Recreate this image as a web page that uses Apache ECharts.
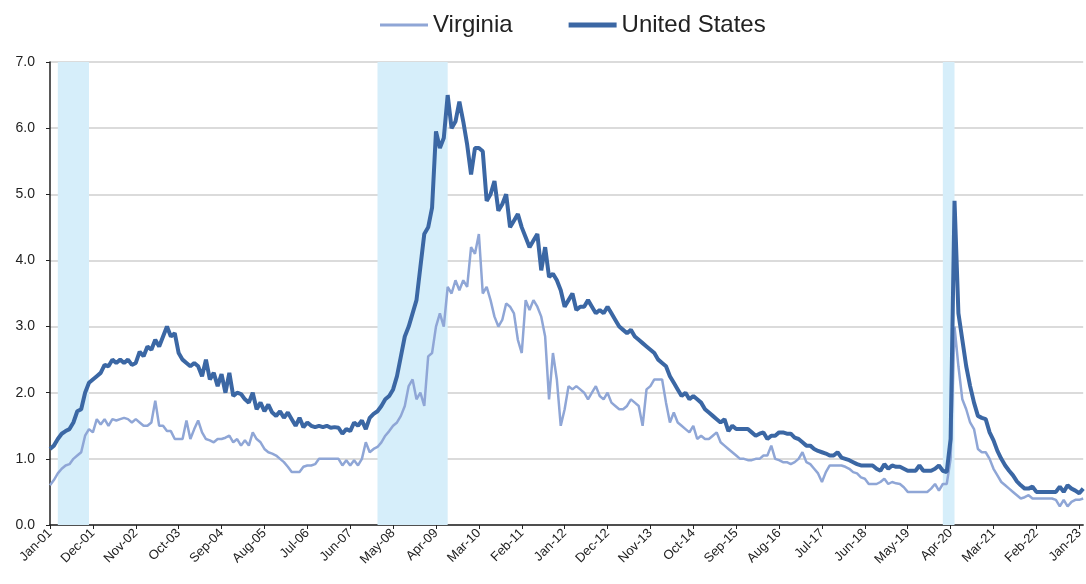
<!DOCTYPE html>
<html>
<head>
<meta charset="utf-8">
<script src="https://cdn.jsdelivr.net/npm/echarts@6/dist/echarts.min.js"></script>
<style>
  html, body { margin: 0; padding: 0; background: #fff; }
  #main { width: 1086px; height: 584px; }
</style>
</head>
<body>
<div id="main"></div>
<script>
var myChart = echarts.init(document.getElementById('main'));

// month labels Jan-01 .. Feb-23
var monthNames = ['Jan', 'Feb', 'Mar', 'Apr', 'May', 'Jun', 'Jul', 'Aug', 'Sep', 'Oct', 'Nov', 'Dec'];
var categories = [];
for (var y = 2001; y <= 2023; y++) {
    for (var m = 0; m < 12; m++) {
        if (categories.length < 266) categories.push(monthNames[m] + '-' + String(y).slice(2));
    }
}

// one row per year
var usData = [
    1.15, 1.2, 1.3, 1.38, 1.42, 1.45, 1.55, 1.72, 1.75, 2.0, 2.15, 2.2,
    2.25, 2.3, 2.42, 2.4, 2.5, 2.45, 2.5, 2.45, 2.5, 2.42, 2.45, 2.62,
    2.55, 2.7, 2.65, 2.8, 2.7, 2.85, 3.0, 2.85, 2.9, 2.6, 2.5, 2.45,
    2.4, 2.45, 2.4, 2.25, 2.5, 2.2, 2.3, 2.1, 2.28, 2.0, 2.3, 1.95,
    2.0, 1.98, 1.9, 1.85, 2.0, 1.75, 1.85, 1.72, 1.82, 1.7, 1.65, 1.72,
    1.62, 1.7, 1.6, 1.5, 1.62, 1.48, 1.55, 1.5, 1.48, 1.5, 1.48, 1.5,
    1.47, 1.48, 1.47, 1.38, 1.45, 1.42, 1.55, 1.5, 1.58, 1.45, 1.62, 1.68,
    1.72, 1.8, 1.9, 1.95, 2.05, 2.25, 2.55, 2.85, 3.0, 3.2, 3.4, 3.9,
    4.4, 4.5, 4.8, 5.95, 5.7, 5.85, 6.5, 6.0, 6.1, 6.4, 6.1, 5.75,
    5.3, 5.7, 5.7, 5.65, 4.9, 5.0, 5.2, 4.75, 4.85, 5.0, 4.5, 4.6,
    4.7, 4.5, 4.35, 4.2, 4.3, 4.4, 3.85, 4.2, 3.75, 3.8, 3.7, 3.55,
    3.3, 3.4, 3.5, 3.25, 3.3, 3.3, 3.4, 3.3, 3.2, 3.25, 3.2, 3.3,
    3.2, 3.1, 3.0, 2.95, 2.9, 2.95, 2.85, 2.8, 2.75, 2.7, 2.65, 2.6,
    2.5, 2.45, 2.4, 2.25, 2.15, 2.05, 1.95, 2.0, 1.9, 1.95, 1.9, 1.85,
    1.75, 1.7, 1.65, 1.6, 1.55, 1.6, 1.42, 1.5, 1.45, 1.45, 1.45, 1.45,
    1.4, 1.35, 1.38, 1.4, 1.3, 1.35, 1.35, 1.4, 1.4, 1.38, 1.38, 1.32,
    1.3, 1.25, 1.2, 1.2, 1.15, 1.12, 1.1, 1.08, 1.05, 1.05, 1.1, 1.02,
    1.0, 0.98, 0.95, 0.92, 0.9, 0.9, 0.9, 0.9, 0.85, 0.82, 0.92, 0.85,
    0.9, 0.88, 0.88, 0.85, 0.82, 0.82, 0.82, 0.9, 0.82, 0.82, 0.82, 0.85,
    0.9, 0.82, 0.8, 1.3, 4.9, 3.2, 2.8, 2.4, 2.1, 1.85, 1.65, 1.62,
    1.6, 1.4, 1.28, 1.12, 1.0, 0.9, 0.82, 0.75, 0.66, 0.6, 0.55, 0.55,
    0.58, 0.5, 0.5, 0.5, 0.5, 0.5, 0.5, 0.58, 0.5, 0.6, 0.55, 0.52,
    0.48, 0.55
];

var vaData = [
    0.6, 0.68, 0.78, 0.85, 0.9, 0.92, 1.0, 1.05, 1.1, 1.35, 1.45, 1.4,
    1.6, 1.52, 1.6, 1.5, 1.6, 1.58, 1.6, 1.62, 1.6, 1.55, 1.6, 1.55,
    1.5, 1.5, 1.55, 1.88, 1.5, 1.5, 1.42, 1.42, 1.3, 1.3, 1.3, 1.58,
    1.3, 1.45, 1.58, 1.4, 1.3, 1.28, 1.25, 1.3, 1.3, 1.32, 1.35, 1.25,
    1.3, 1.2, 1.28, 1.2, 1.4, 1.3, 1.25, 1.15, 1.1, 1.08, 1.05, 1.0,
    0.95, 0.88, 0.8, 0.8, 0.8, 0.88, 0.9, 0.9, 0.92, 1.0, 1.0, 1.0,
    1.0, 1.0, 1.0, 0.9, 0.98, 0.9, 0.98, 0.9, 1.0, 1.25, 1.1, 1.15,
    1.18, 1.25, 1.35, 1.42, 1.5, 1.55, 1.65, 1.8, 2.1, 2.2, 1.9, 2.0,
    1.8, 2.55, 2.6, 3.0, 3.2, 3.0, 3.6, 3.5, 3.7, 3.55, 3.7, 3.6,
    4.2, 4.1, 4.4, 3.5, 3.6, 3.4, 3.15, 3.0, 3.1, 3.35, 3.3, 3.2,
    2.8, 2.6, 3.4, 3.25, 3.4, 3.3, 3.15, 2.85, 1.9, 2.6, 2.2, 1.5,
    1.75, 2.1, 2.05, 2.1, 2.05, 2.0, 1.9, 2.0, 2.1, 1.95, 1.9, 2.0,
    1.85, 1.8, 1.75, 1.75, 1.8, 1.9, 1.85, 1.8, 1.5, 2.05, 2.1, 2.2,
    2.2, 2.2, 1.85, 1.55, 1.7, 1.55, 1.5, 1.45, 1.4, 1.5, 1.3, 1.35,
    1.3, 1.3, 1.35, 1.4, 1.25, 1.2, 1.15, 1.1, 1.05, 1.0, 1.0, 0.98,
    0.98, 1.0, 1.0, 1.05, 1.05, 1.2, 1.0, 0.98, 0.95, 0.95, 0.92, 0.95,
    1.0, 1.1, 0.95, 0.92, 0.85, 0.78, 0.65, 0.8, 0.9, 0.9, 0.9, 0.9,
    0.88, 0.85, 0.8, 0.78, 0.72, 0.7, 0.62, 0.62, 0.62, 0.65, 0.7, 0.62,
    0.65, 0.63, 0.62, 0.57, 0.5, 0.5, 0.5, 0.5, 0.5, 0.5, 0.55, 0.62,
    0.52, 0.62, 0.62, 1.0, 3.0, 2.4, 1.9, 1.75, 1.55, 1.45, 1.15, 1.1,
    1.1, 1.0, 0.85, 0.75, 0.65, 0.6, 0.55, 0.5, 0.45, 0.4, 0.42, 0.45,
    0.4, 0.4, 0.4, 0.4, 0.4, 0.4, 0.38, 0.28, 0.38, 0.28, 0.35, 0.38,
    0.38, 0.4
];

// recession periods (shaded)
var recessions = [['Mar-01', 'Nov-01'], ['Jan-08', 'Jul-09'], ['Feb-20', 'May-20']];

var font = '"Liberation Sans Narrow", "Arial Narrow", "Liberation Sans", sans-serif';
var vaColor = '#8fa6d6';
var usColor = '#3b67a4';

var option = {
    animation: false,
    backgroundColor: '#fff',
    legend: {
        top: 8,
        left: 375,
        itemWidth: 48,
        itemHeight: 12,
        itemGap: 56,
        textStyle: {
            fontFamily: font,
            fontSize: 24,
            color: '#222'
        },
        data: [
            {name: 'Virginia', icon: 'path://M0 0H48V3H0Z'},
            {name: 'United States', icon: 'path://M0 0H48V5H0Z'}
        ]
    },
    grid: {
        left: 50,
        right: 2,
        top: 62,
        bottom: 59,
        containLabel: false
    },
    xAxis: {
        type: 'category',
        boundaryGap: false,
        data: categories,
        axisLine: { lineStyle: { color: '#222', width: 1.5 } },
        axisTick: { show: true, interval: 10, length: 4, lineStyle: { color: '#222' } },
        axisLabel: {
            interval: 10,
            rotate: 45,
            margin: 6,
            fontFamily: font,
            fontSize: 13,
            color: '#222'
        },
        splitLine: { show: false }
    },
    yAxis: {
        type: 'value',
        min: 0,
        max: 7,
        interval: 1,
        axisLine: { show: true, lineStyle: { color: '#222', width: 1.5 } },
        axisTick: { show: true, length: 4, lineStyle: { color: '#222' } },
        axisLabel: {
            margin: 15,
            fontFamily: font,
            fontSize: 14,
            color: '#222',
            formatter: function (v) { return v.toFixed(1); }
        },
        splitLine: { lineStyle: { color: '#cfcfcf', width: 1.5 } }
    },
    series: [
        {
            name: 'recession',
            type: 'line',
            data: [],
            z: 0,
            silent: true,
            markArea: {
                silent: true,
                itemStyle: { color: '#d6eefa' },
                data: recessions.map(function (r) {
                    return [{ xAxis: r[0] }, { xAxis: r[1] }];
                })
            }
        },
        {
            name: 'Virginia',
            type: 'line',
            data: vaData,
            symbol: 'none',
            z: 2,
            lineStyle: { color: vaColor, width: 2.5 },
            itemStyle: { color: vaColor }
        },
        {
            name: 'United States',
            type: 'line',
            data: usData,
            symbol: 'none',
            z: 3,
            lineStyle: { color: usColor, width: 4 },
            itemStyle: { color: usColor }
        }
    ]
};

myChart.setOption(option);
</script>
</body>
</html>
